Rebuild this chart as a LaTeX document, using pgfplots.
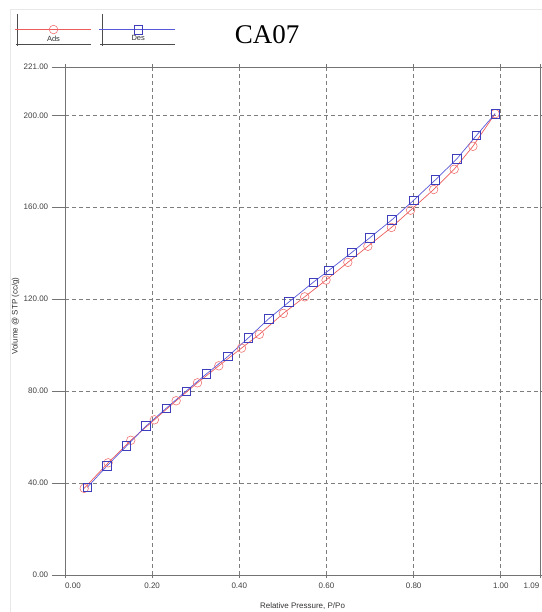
\documentclass[border=0pt]{standalone}
\usepackage{fontspec}
\setmainfont{Liberation Sans}
\newfontfamily\titlefont{Liberation Serif}
\usepackage{pgfplots}
\pgfplotsset{compat=1.18}

\definecolor{adsline}{RGB}{236,92,92}
\definecolor{adsmark}{RGB}{240,115,115}
\definecolor{desline}{RGB}{88,88,218}
\definecolor{desmark}{RGB}{62,62,188}
\definecolor{axisgray}{RGB}{115,115,115}
\definecolor{gridgray}{RGB}{125,125,125}
\definecolor{framegray}{RGB}{232,232,232}

% legend swatch: framed line with a centred mark and the entry name below
\pgfplotsset{
  boxlegend/.style={
    legend image code/.code={
      \draw[black!70, line width=0.7pt] (0pt,-16pt) -- (0pt,16pt);
      \draw[black!70, line width=0.7pt] (-2pt,-15pt) -- (73pt,-15pt);
      \draw[##1, mark repeat=2, mark phase=2] plot coordinates {(-3pt,0pt) (36pt,0pt) (73pt,0pt)};
      \node[font=\fontsize{7.5}{8}\selectfont, text=black!80, inner sep=0pt] at (36pt,-9.5pt) {#1};
    }
  }
}

% adsorption branch
\pgfplotstableread{
p     v
0.044 37.7
0.099 48.8
0.151 58.6
0.205 67.5
0.255 75.8
0.304 83.6
0.353 91.0
0.405 98.7
0.446 104.7
0.501 113.8
0.550 121.0
0.599 128.3
0.649 136.0
0.695 143.0
0.749 151.2
0.793 158.7
0.846 167.7
0.893 176.5
0.936 186.5
0.987 200.7
}\adstable

% desorption branch
\pgfplotstableread{
p     v
0.987 200.7
0.944 191.2
0.899 181.0
0.850 171.9
0.800 163.0
0.750 154.5
0.700 146.8
0.658 140.3
0.606 132.6
0.570 127.4
0.514 118.8
0.467 111.4
0.421 103.2
0.374 95.1
0.324 87.4
0.278 80.0
0.232 72.5
0.186 64.8
0.141 56.1
0.096 47.4
0.051 38.1
}\destable

\begin{document}
\begin{tikzpicture}[x=1pt,y=1pt]
\useasboundingbox (0,0) rectangle (541,612);
\draw[framegray, line width=0.8pt] (10,-5) -- (10,603) -- (560,603);
\begin{axis}[
  at={(65pt,37pt)}, anchor=south west,
  scale only axis, width=475pt, height=508pt,
  xmin=0, xmax=1.09, ymin=0, ymax=221,
  xtick={0,0.2,0.4,0.6,0.8,1.0,1.09},
  xticklabels={{\hspace*{16pt}0.00},0.20,0.40,0.60,0.80,1.00,{1.09\hspace*{17pt}}},
  ytick={0,40,80,120,160,200,221},
  yticklabels={0.00,40.00,80.00,120.00,160.00,200.00,221.00},
  tick align=outside,
  xtick style={/pgfplots/major tick length=3pt, axisgray, line width=0.8pt},
  ytick style={/pgfplots/major tick length=13pt, axisgray, line width=0.8pt},
  ticklabel style={font=\fontsize{8}{9}\selectfont, text=black!75},
  yticklabel style={xshift=-9pt},
  axis line style={axisgray, line width=0.9pt},
  grid=major,
  major grid style={gridgray, dash pattern=on 4pt off 3pt, line width=0.8pt},
  xlabel={Relative Pressure, P/Po},
  ylabel={Volume @ STP (cc/g)},
  every axis x label/.style={at={(axis description cs:0.5,-0.061)}, anchor=center, font=\fontsize{8}{9}\selectfont, text=black!80},
  every axis y label/.style={at={(axis description cs:-0.104,0.51)}, rotate=90, anchor=center, font=\fontsize{8}{9}\selectfont, text=black!80},
  legend columns=2,
  legend style={at={(axis description cs:-0.1074,1.1063)}, anchor=north west,
    draw=none, fill=none, inner sep=0pt, column sep=3.5pt, nodes={inner sep=0pt}},
  clip=false,
]
\addplot[color=adsline, line width=0.7pt, mark=o, mark size=4.3pt,
  mark options={draw=adsmark, line width=0.6pt, solid}, boxlegend={Ads}]
  table[x=p, y=v] {\adstable};
\addlegendentry{\mbox{}}
\addplot[color=desline, line width=0.7pt, mark=square, mark size=4.3pt,
  mark options={draw=desmark, line width=0.6pt, solid}, boxlegend={Des}]
  table[x=p, y=v] {\destable};
\addlegendentry{\mbox{}}
\node[font=\titlefont\fontsize{27}{30}\selectfont, inner sep=0pt] at (axis description cs:0.4253,1.063) {CA07};
\end{axis}
\end{tikzpicture}
\end{document}
